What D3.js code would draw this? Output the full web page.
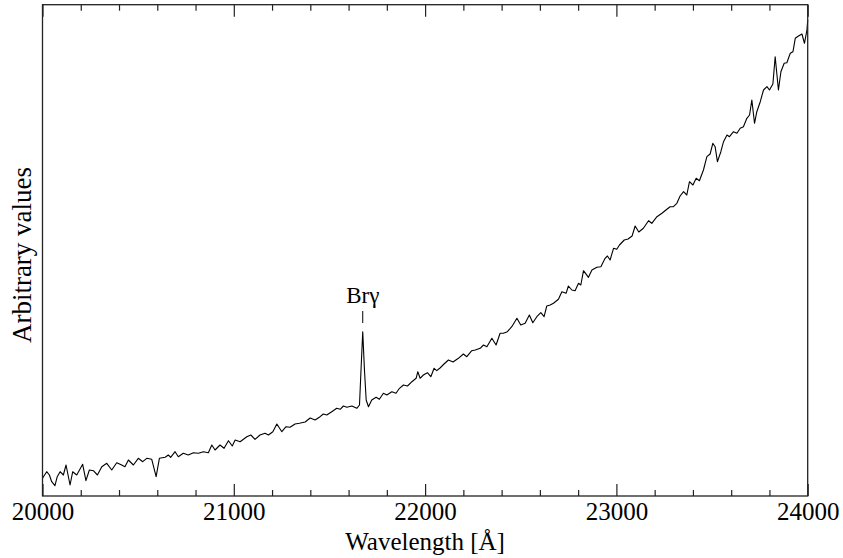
<!DOCTYPE html>
<html>
<head>
<meta charset="utf-8">
<script src="https://cdn.jsdelivr.net/npm/d3@7"></script>
<style>
  body { margin: 0; background: #fff; }
  text { font-family: "Liberation Serif", "Times New Roman", serif; fill: #000; }
</style>
</head>
<body>
<svg id="chart" width="843" height="558"></svg>
<script>
// spectrum (wavelength in Angstrom, flux in arbitrary units)
const wavelength = [
  20000, 20022, 20036, 20048, 20065, 20077, 20092, 20109, 20123, 20144,
  20158, 20179, 20210, 20227, 20245, 20266, 20287, 20310, 20336, 20362,
  20388, 20414, 20431, 20449, 20475, 20501, 20524, 20545, 20571, 20594,
  20611, 20641, 20658, 20670, 20693, 20710, 20736, 20762, 20789, 20815,
  20841, 20867, 20885, 20902, 20928, 20949, 20972, 20992, 21007, 21033,
  21068, 21089, 21111, 21137, 21163, 21181, 21204, 21225, 21251, 21273,
  21294, 21320, 21343, 21373, 21399, 21425, 21451, 21468, 21486, 21512,
  21538, 21556, 21573, 21591, 21617, 21643, 21657, 21665, 21674, 21683,
  21692, 21704, 21721, 21744, 21761, 21782, 21800, 21826, 21848, 21866,
  21887, 21908, 21931, 21953, 21962, 21974, 21991, 22012, 22030, 22047,
  22061, 22078, 22099, 22122, 22146, 22174, 22200, 22218, 22244, 22262,
  22288, 22305, 22323, 22349, 22371, 22392, 22409, 22430, 22453, 22480,
  22500, 22523, 22545, 22563, 22584, 22605, 22622, 22636, 22654, 22671,
  22697, 22715, 22737, 22749, 22767, 22784, 22802, 22814, 22828, 22854,
  22872, 22898, 22919, 22941, 22953, 22967, 22985, 23002, 23016, 23041,
  23061, 23082, 23098, 23117, 23141, 23168, 23185, 23212, 23238, 23264,
  23281, 23298, 23316, 23333, 23351, 23368, 23382, 23400, 23417, 23434,
  23455, 23473, 23490, 23504, 23516, 23528, 23546, 23560, 23578, 23591,
  23612, 23630, 23647, 23664, 23682, 23696, 23708, 23722, 23734, 23752,
  23769, 23787, 23800, 23818, 23830, 23847, 23860, 23877, 23891, 23909,
  23923, 23935, 23952, 23970, 23983, 23996, 24000
];
const flux = [
  17.7, 24.3, 21.0, 14.3, 10.3, 19.3, 24.3, 21.0, 31.0, 11.0,
  24.3, 21.0, 31.7, 15.3, 26.0, 25.3, 21.0, 29.3, 32.7, 26.0,
  33.3, 31.0, 29.3, 36.0, 31.0, 37.7, 34.3, 37.7, 36.7, 19.3,
  37.7, 38.7, 41.0, 38.7, 44.3, 39.3, 42.7, 41.0, 43.3, 42.7,
  44.3, 43.3, 51.0, 46.0, 51.0, 47.7, 55.3, 50.0, 56.0, 54.3,
  59.3, 61.0, 56.7, 61.0, 62.7, 61.0, 64.3, 72.0, 64.3, 69.3,
  68.7, 72.0, 72.7, 74.0, 78.0, 76.0, 79.3, 82.0, 81.0, 84.3,
  87.7, 86.7, 90.0, 88.7, 90.0, 87.7, 91.0, 126.0, 164.3, 126.0,
  96.0, 89.3, 96.0, 98.7, 96.7, 102.7, 101.0, 104.3, 102.7, 107.7,
  111.0, 110.0, 114.3, 117.7, 124.3, 117.7, 121.0, 123.3, 119.3, 127.7,
  125.3, 128.0, 132.0, 136.0, 134.0, 137.7, 142.0, 139.3, 145.3, 146.0,
  147.7, 151.0, 149.3, 157.7, 151.0, 162.7, 162.7, 164.3, 169.3, 177.7,
  171.0, 172.7, 181.0, 173.3, 179.3, 183.3, 179.3, 190.0, 191.0, 192.7,
  196.7, 204.3, 202.7, 210.0, 206.0, 205.3, 212.7, 211.0, 225.3, 218.7,
  226.0, 228.7, 229.3, 237.7, 240.0, 236.0, 247.7, 246.7, 251.0, 256.0,
  257.0, 260.0, 270.0, 264.0, 267.7, 275.3, 272.7, 279.3, 282.7, 286.7,
  289.3, 289.3, 292.7, 300.0, 304.3, 301.0, 314.3, 311.0, 317.7, 315.3,
  326.0, 339.3, 342.0, 352.7, 349.3, 334.3, 344.3, 354.3, 361.0, 359.3,
  364.3, 362.7, 367.7, 369.3, 377.7, 381.0, 396.0, 372.7, 384.3, 394.3,
  406.0, 409.3, 406.0, 412.0, 439.3, 406.0, 424.3, 432.7, 433.3, 442.7,
  444.3, 457.7, 460.0, 462.0, 452.7, 466.0, 476.0
];

const xDomain = [20000, 24000];
const yDomain = [0, 491.3];
const majorTicks = [20000, 21000, 22000, 23000, 24000];
const minorTicks = d3.range(20000, 24001, 200).filter(v => v % 1000 !== 0);

const lineLabel = "Brγ";
const lineWave = 21674;

const svg = d3.select("#chart");
const mLeft = 42.5, mRight = 807.7, mTop = 4.7, mBottom = 496;

const x = d3.scaleLinear().domain(xDomain).range([mLeft, mRight]);
const y = d3.scaleLinear().domain(yDomain).range([mBottom, mTop]);

const pts = wavelength.map((w, i) => [w, flux[i]]);

svg.append("path")
  .datum(pts)
  .attr("fill", "none")
  .attr("stroke", "#000")
  .attr("stroke-width", 1.1)
  .attr("stroke-linejoin", "round")
  .attr("d", d3.line().x(d => x(d[0])).y(d => y(d[1])));

// ticks point inward on bottom and top
const gb = svg.append("g").attr("transform", `translate(0,${mBottom})`);
gb.call(d3.axisBottom(x).tickValues(majorTicks).tickSize(-12).tickPadding(6)
  .tickFormat(d3.format("d")));
gb.append("g").call(d3.axisBottom(x).tickValues(minorTicks).tickSize(-6).tickFormat(""));

const gt = svg.append("g").attr("transform", `translate(0,${mTop})`);
gt.call(d3.axisTop(x).tickValues(majorTicks).tickSize(-12).tickFormat(""));
gt.append("g").call(d3.axisTop(x).tickValues(minorTicks).tickSize(-6).tickFormat(""));

svg.selectAll(".domain").remove();
svg.selectAll(".tick line").attr("stroke", "#222").attr("stroke-width", 1.2);
gb.selectAll(".tick text")
  .style("font-family", '"Liberation Serif", "Times New Roman", serif')
  .style("font-size", "25px")
  .attr("fill", "#000");

svg.append("rect")
  .attr("x", mLeft).attr("y", mTop)
  .attr("width", mRight - mLeft).attr("height", mBottom - mTop)
  .attr("fill", "none")
  .attr("stroke", "#222")
  .attr("stroke-width", 1.3);

// line marker
svg.append("line")
  .attr("x1", x(lineWave)).attr("x2", x(lineWave))
  .attr("y1", 311).attr("y2", 323)
  .attr("stroke", "#000").attr("stroke-width", 1);
svg.append("text")
  .attr("x", x(lineWave)).attr("y", 303)
  .attr("text-anchor", "middle")
  .style("font-size", "23px")
  .text(lineLabel);

svg.append("text")
  .attr("x", (mLeft + mRight) / 2).attr("y", 550)
  .attr("text-anchor", "middle")
  .style("font-size", "25px")
  .text("Wavelength [Å]");

svg.append("text")
  .attr("transform", "translate(31,255) rotate(-90)")
  .attr("text-anchor", "middle")
  .style("font-size", "27px")
  .text("Arbitrary values");
</script>
</body>
</html>
